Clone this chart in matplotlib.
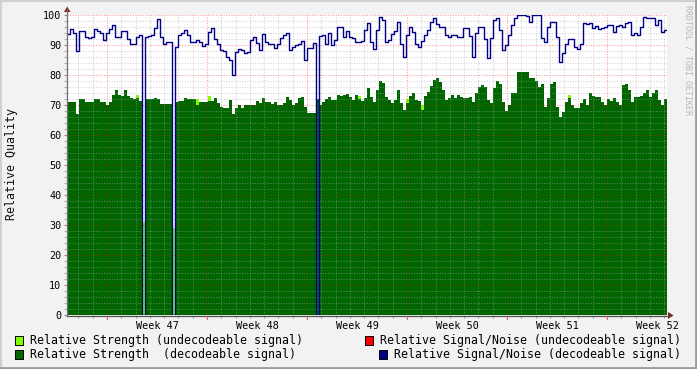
import numpy as np
import matplotlib
matplotlib.use("Agg")
import matplotlib.pyplot as plt
from matplotlib.patches import Rectangle, Polygon
from matplotlib.lines import Line2D

# ---------------- data ----------------
week_labels = ["Week 47", "Week 48", "Week 49", "Week 50", "Week 51", "Week 52"]
week_label_days = [6.3, 13.3, 20.3, 27.3, 34.3, 41.3]     # label centres (days from graph start)
week_line_days = [2.8, 9.8, 16.8, 23.8, 30.8, 37.8]       # week boundaries (major grid)
sample_step_days = 0.21                                     # one RRD sample

sn_decodeable = [
    93.7, 95.3, 93.9, 88.0, 94.8, 94.8, 92.8, 92.2, 92.8, 95.2,
    94.8, 93.9, 91.7, 93.9, 95.2, 96.7, 92.6, 92.8, 94.8, 94.8,
    91.9, 90.5, 90.5, 92.6, 93.3, 0.0, 92.8, 93.0, 93.3, 95.6,
    98.6, 92.8, 90.5, 90.9, 91.1, 0.0, 89.4, 93.3, 93.9, 95.0,
    93.3, 91.1, 91.1, 91.7, 91.1, 89.7, 90.5, 94.4, 95.6, 92.0,
    90.5, 88.3, 88.1, 86.1, 85.0, 80.0, 87.8, 88.6, 88.3, 87.2,
    87.8, 91.7, 92.6, 90.8, 88.3, 93.7, 91.1, 90.5, 90.5, 88.9,
    90.5, 92.2, 93.3, 94.0, 88.3, 89.2, 90.0, 90.5, 91.4, 85.0,
    88.9, 88.9, 90.8, 0.0, 93.0, 93.3, 90.5, 93.9, 90.0, 91.7,
    96.1, 96.1, 92.6, 94.8, 92.8, 92.2, 91.1, 91.1, 91.5, 95.0,
    97.4, 91.1, 88.6, 95.0, 99.2, 98.3, 91.1, 91.7, 93.7, 94.8,
    97.8, 90.5, 86.1, 93.3, 96.1, 94.4, 90.5, 89.4, 91.4, 93.3,
    95.0, 97.8, 98.9, 96.9, 96.1, 96.1, 93.3, 92.8, 93.3, 93.3,
    92.8, 92.8, 95.6, 95.6, 93.0, 86.1, 93.9, 96.1, 96.1, 91.9,
    85.6, 92.2, 98.3, 98.9, 95.0, 88.3, 90.0, 93.3, 96.7, 99.0,
    100.0, 100.0, 100.0, 99.7, 97.8, 100.0, 100.0, 100.0, 92.2, 91.1,
    96.1, 97.8, 97.8, 92.8, 84.5, 87.2, 90.5, 91.9, 91.9, 89.2,
    88.6, 90.5, 97.4, 97.0, 97.2, 95.6, 96.3, 95.2, 95.6, 96.1,
    96.7, 96.7, 94.4, 96.3, 96.7, 96.1, 97.2, 97.8, 93.3, 93.9,
    93.3, 96.1, 99.2, 98.9, 98.9, 98.9, 96.7, 98.3, 94.4, 95.0,
]

strength_decodeable = [
    71.0, 71.0, 71.0, 67.0, 72.0, 72.0, 71.0, 71.0, 71.0, 72.0,
    72.0, 71.0, 71.0, 70.0, 71.0, 73.5, 75.0, 73.5, 73.0, 75.0,
    73.0, 72.5, 72.0, 72.5, 71.5, 0.0, 72.0, 72.0, 72.0, 72.5,
    72.0, 70.5, 70.5, 70.5, 70.5, 0.0, 71.0, 71.5, 71.5, 72.5,
    72.0, 72.0, 72.0, 70.0, 71.0, 71.0, 71.0, 71.5, 71.5, 72.5,
    70.6, 69.4, 68.9, 68.9, 71.7, 67.0, 68.9, 70.0, 68.9, 70.0,
    70.0, 70.0, 70.0, 71.4, 70.6, 72.2, 71.1, 71.1, 70.3, 71.1,
    70.0, 70.0, 70.6, 72.6, 71.7, 70.0, 70.6, 72.2, 72.6, 69.4,
    67.2, 67.2, 67.2, 72.0, 70.0, 71.1, 71.9, 72.6, 71.7, 71.7,
    73.3, 73.0, 73.3, 73.7, 72.6, 71.7, 73.3, 71.9, 71.2, 72.5,
    75.6, 72.6, 71.1, 75.0, 78.1, 77.4, 72.6, 71.7, 70.6, 71.7,
    75.0, 70.6, 68.3, 70.6, 73.0, 73.9, 71.7, 71.4, 68.3, 73.0,
    74.4, 76.3, 78.3, 78.9, 77.8, 75.0, 71.7, 72.2, 73.3, 72.2,
    73.3, 72.6, 72.2, 72.2, 72.8, 71.1, 73.9, 75.9, 76.7, 76.1,
    71.7, 70.6, 75.6, 78.1, 77.0, 71.1, 68.1, 70.0, 74.0, 74.0,
    81.1, 81.1, 81.1, 81.1, 78.9, 78.9, 78.1, 76.1, 77.0, 69.4,
    72.2, 77.0, 77.8, 69.4, 66.1, 67.8, 71.1, 72.2, 70.0, 68.9,
    68.9, 70.6, 71.9, 70.0, 74.0, 73.0, 72.8, 72.6, 71.1, 70.0,
    71.9, 71.4, 72.2, 71.1, 70.0, 76.7, 77.0, 75.0, 71.1, 72.8,
    72.8, 73.0, 73.9, 75.0, 72.8, 73.9, 75.0, 71.7, 70.0, 71.9,
]

strength_undecodeable = [0.0] * 200
for _i, _v in [(23, 73.5), (25, 31.0), (35, 29.0), (43, 72.0), (47, 73.0),
               (97, 73.0), (113, 72.0), (118, 70.0), (167, 73.5)]:
    strength_undecodeable[_i] = _v

sn_undecodeable = [0.0] * 200   # not visible in this period

legend_labels = [
    "Relative Strength (undecodeable signal)",
    "Relative Signal/Noise (undecodeable signal)",
    "Relative Strength  (decodeable signal)",
    "Relative Signal/Noise (decodeable signal)",
]

# ---------------- styling ----------------
W, H = 697, 369
C_BG = "#F2F2F2"
C_LIME = "#80FF00"
C_GREEN = "#006600"
C_RED = "#FF0000"
C_NAVY = "#000088"
C_ARROW = "#802020"
MONO = "DejaVu Sans Mono"

fig = plt.figure(figsize=(W / 100, H / 100), dpi=100)
fig.patch.set_facecolor(C_BG)

L, R, T, B = 67, 667, 15, 315
ax = fig.add_axes([L / W, 1 - B / H, (R - L) / W, (B - T) / H])
ax.set_facecolor("white")

n = len(sn_decodeable)
t = np.arange(n) * sample_step_days
t_ext = np.append(t, t[-1] + sample_step_days)


def ext(a):
    a = np.asarray(a, dtype=float)
    return np.append(a, a[-1])


ax.fill_between(t_ext, ext(strength_undecodeable), 0, step="post",
                color=C_LIME, lw=0, zorder=1)
ax.fill_between(t_ext, ext(strength_decodeable), 0, step="post",
                color=C_GREEN, lw=0, zorder=2)

# grid over the areas
for d in np.arange(week_line_days[0] - 2, 42, 1.0):
    if min(abs(d - w) for w in week_line_days) < 1e-6:
        continue
    ax.axvline(d, color="#A8A8A8", alpha=0.5, lw=0.75, ls=(0, (1, 1.5)), zorder=3)
for v in range(2, 100, 2):
    if v % 10 == 0:
        continue
    ax.axhline(v, color="#A8A8A8", alpha=0.5, lw=0.75, ls=(0, (1, 1.5)), zorder=3)
for d in week_line_days:
    ax.axvline(d, color="#FF0000", alpha=0.4, lw=0.75, ls=(0, (1, 1.5)), zorder=3)
for v in range(10, 101, 10):
    ax.axhline(v, color="#FF0000", alpha=0.4, lw=0.75, ls=(0, (1, 1.5)), zorder=3)

ax.step(t_ext, ext(sn_decodeable), where="post", color=C_NAVY, lw=1.0, zorder=4)

ax.set_xlim(0, 42)
ax.set_ylim(0, 100)
for s in ax.spines.values():
    s.set_visible(False)

ax.set_xticks(week_label_days)
ax.set_xticklabels(week_labels, fontfamily=MONO, fontsize=7.3)
ax.set_xticks(np.arange(week_line_days[0] - 2, 42, 1.0), minor=True)
ax.tick_params(axis="x", which="major", length=0, pad=4)
ax.tick_params(axis="x", which="minor", length=2, color="#A0A0A0", width=0.8)
ax.set_yticks(range(0, 101, 10))
ax.set_yticklabels([str(v) for v in range(0, 101, 10)], fontfamily=MONO, fontsize=7.3)
ax.set_yticks(range(0, 101, 2), minor=True)
ax.tick_params(axis="y", which="major", length=2, color="#909090", width=0.8, pad=2)
ax.tick_params(axis="y", which="minor", length=2, color="#B0B0B0", width=0.8)


def fx(x):
    return x / W


def fy(y):
    return 1 - y / H


# axis lines with arrows
fig.add_artist(Line2D([fx(67), fx(67)], [fy(315.5), fy(9)], color="#707070", lw=0.9))
fig.add_artist(Line2D([fx(66.5), fx(670)], [fy(315.5), fy(315.5)], color="#505050", lw=0.9))
fig.add_artist(Polygon([[fx(64), fy(12)], [fx(70.5), fy(12)], [fx(67.2), fy(6.5)]],
                       closed=True, color=C_ARROW, lw=0))
fig.add_artist(Polygon([[fx(668), fy(312)], [fx(668), fy(319)], [fx(673.5), fy(315.5)]],
                       closed=True, color=C_ARROW, lw=0))
# red ticks at week boundaries below the axis
for d in week_line_days:
    xp = L + d / 42 * (R - L)
    fig.add_artist(Line2D([fx(xp), fx(xp)], [fy(316), fy(319)], color="#E06060", lw=0.8))

# y label and watermark
fig.text(fx(12), fy(164), "Relative Quality", rotation=90, ha="center", va="center",
         fontfamily=MONO, fontsize=8.4, color="#111111")
fig.text(fx(688), fy(60), "RRDTOOL / TOBI OETIKER", rotation=270, ha="center", va="center",
         fontfamily=MONO, fontsize=6.0, color="#B8B8B8")

# legend
legend_items = [
    (15, 340.5, C_LIME, 30, legend_labels[0]),
    (365, 340.5, C_RED, 380, legend_labels[1]),
    (15, 354.5, C_GREEN, 30, legend_labels[2]),
    (379, 354.5, C_NAVY, 394, legend_labels[3]),
]
for sx, sy, col, tx, lab in legend_items:
    fig.add_artist(Rectangle((fx(sx), fy(sy + 4.5)), 8 / W, 9 / H, facecolor=col,
                             edgecolor="black", lw=0.7))
    fig.text(fx(tx), fy(sy), lab, ha="left", va="center", fontfamily=MONO,
             fontsize=8.4, color="black")

# rrdtool style frame shading
fig.add_artist(Line2D([0, 1], [fy(0.5), fy(0.5)], color="#D0D0D0", lw=1.5))
fig.add_artist(Line2D([fx(0.5), fx(0.5)], [0, 1], color="#D0D0D0", lw=1.5))
fig.add_artist(Line2D([0, 1], [fy(368), fy(368)], color="#9C9C9C", lw=2))
fig.add_artist(Line2D([fx(696), fx(696)], [0, 1], color="#9C9C9C", lw=2))

fig.savefig("out.png", dpi=100, facecolor=fig.get_facecolor())
